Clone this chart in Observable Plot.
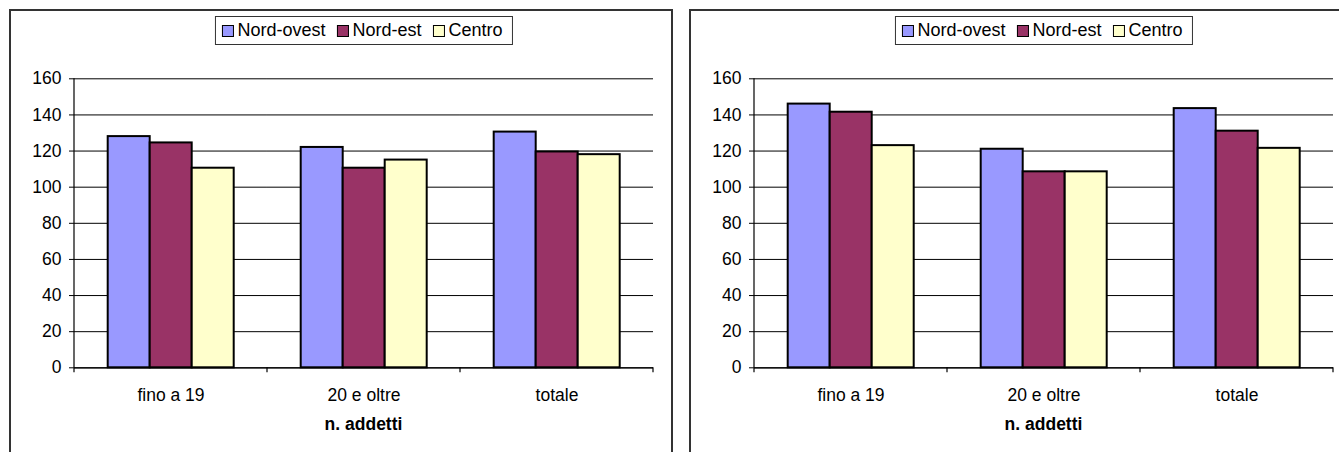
<!DOCTYPE html>
<html><head><meta charset="utf-8">
<script src="https://cdn.jsdelivr.net/npm/d3@7"></script>
<script src="https://cdn.jsdelivr.net/npm/@observablehq/plot@0.6"></script>
<style>
body{margin:0;width:1339px;height:452px;overflow:hidden;background:#fff;font-family:Arial,"Liberation Sans",sans-serif;position:relative}
.panel{position:absolute;top:9px;height:470px;border:2px solid #333;box-sizing:border-box;pointer-events:none;z-index:2}
.chart{position:absolute;top:0}
.legend{position:absolute;top:16px;height:29px;border:1px solid #333;box-sizing:border-box;display:flex;align-items:center;padding:0 9px 0 6px;font-size:18px;background:#fff;z-index:3;transform:translateX(-50%);white-space:nowrap;color:#000}
.legend .it{display:flex;align-items:center;margin-right:11px}
.legend .it:last-child{margin-right:0}
.legend .sw{width:12px;height:12px;border:1.5px solid #000;box-sizing:border-box;margin-right:4px;margin-top:1px}
.xlabel{position:absolute;top:414px;font-size:17.5px;font-weight:bold;transform:translateX(-50%);white-space:nowrap;z-index:3}
</style>
</head><body>
<script>
const categories = ["fino a 19", "20 e oltre", "totale"];
const series = ["Nord-ovest", "Nord-est", "Centro"];
const seriesColors = ["#9999FF", "#993366", "#FFFFCC"];
const yTicks = [0, 20, 40, 60, 80, 100, 120, 140, 160];
const axisTitle = "n. addetti";

// left chart
const leftNordOvest = [128, 122, 130.5];
const leftNordEst = [124.5, 110.5, 119.5];
const leftCentro = [110.5, 115, 118];
// right chart
const rightNordOvest = [146, 121, 143.5];
const rightNordEst = [141.5, 108.5, 131];
const rightCentro = [123, 108.5, 121.5];

function toRows(vals) {
  const rows = [];
  categories.forEach((c, i) => vals.forEach((v, s) => rows.push({cat: c, series: series[s], value: v[i]})));
  return rows;
}

function makePanel(rows, left, width, marginRight) {
  const chart = Plot.plot({
    width, height: 452,
    marginLeft: 73.3, marginRight, marginTop: 78.3, marginBottom: 84.7,
    style: {fontFamily: 'Arial, "Liberation Sans", sans-serif', fontSize: "17.5px", background: "transparent", color: "#000", overflow: "visible"},
    fx: {domain: categories, padding: 0, label: null, axis: null},
    x: {domain: series, paddingInner: 0, paddingOuter: 0.75, axis: null},
    y: {domain: [0, 160], label: null, axis: null},
    color: {domain: series, range: seriesColors},
    marks: [
      Plot.gridY(yTicks, {stroke: "#000", strokeOpacity: 1, strokeWidth: 1}),
      Plot.barY(rows, {fx: "cat", x: "series", y: "value", fill: "series", stroke: "#000", strokeWidth: 2}),
      Plot.ruleY([0], {stroke: "#000", strokeWidth: 1.2}),
      Plot.axisY(yTicks, {anchor: "left", tickSize: 5, tickPadding: 8, label: null, stroke: "#000", fill: "#000"}),
      Plot.axisFx({anchor: "bottom", tickSize: 0, tickPadding: 21, label: null, fill: "#000"})
    ]
  });
  chart.classList.add("chart");
  chart.style.left = left + "px";
  document.body.appendChild(chart);
  const fx = chart.scale("fx"), y = chart.scale("y");
  const svg = d3.select(chart);
  const x0 = fx.apply(categories[0]);
  const bounds = categories.map(c => fx.apply(c)).concat([fx.apply(categories[categories.length - 1]) + fx.bandwidth]);
  const g = svg.append("g").attr("stroke", "#000").attr("stroke-width", 1.2);
  g.append("line").attr("x1", x0).attr("x2", x0).attr("y1", y.apply(160)).attr("y2", y.apply(0));
  bounds.forEach(b => g.append("line").attr("x1", b).attr("x2", b).attr("y1", y.apply(0)).attr("y2", y.apply(0) + 5));
  const center = left + (x0 + bounds[bounds.length - 1]) / 2;
  // legend
  const lg = document.createElement("div");
  lg.className = "legend";
  lg.style.left = center + "px";
  series.forEach((s, i) => {
    const it = document.createElement("div"); it.className = "it";
    const sw = document.createElement("div"); sw.className = "sw"; sw.style.background = seriesColors[i];
    const tx = document.createElement("span"); tx.textContent = s;
    it.appendChild(sw); it.appendChild(tx); lg.appendChild(it);
  });
  document.body.appendChild(lg);
  const xl = document.createElement("div");
  xl.className = "xlabel"; xl.textContent = axisTitle; xl.style.left = center + "px";
  document.body.appendChild(xl);
}

makePanel(toRows([leftNordOvest, leftNordEst, leftCentro]), 0, 672, 18);
makePanel(toRows([rightNordOvest, rightNordEst, rightCentro]), 680, 659, 5);

const p1 = document.createElement("div"); p1.className = "panel"; p1.style.left = "9px"; p1.style.width = "664px";
const p2 = document.createElement("div"); p2.className = "panel"; p2.style.left = "689px"; p2.style.width = "660px";
document.body.appendChild(p1); document.body.appendChild(p2);
</script>
</body></html>
